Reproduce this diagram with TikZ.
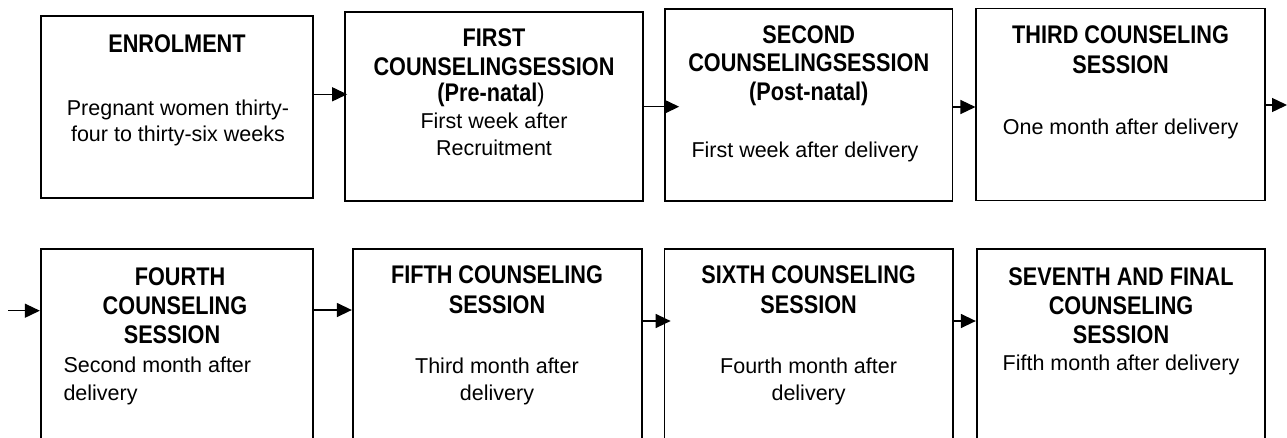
\documentclass[tikz,border=0pt]{standalone}
\usepackage{fontspec}
\setmainfont{Liberation Sans}
\newfontfamily\headfont{Liberation Sans}[FakeStretch=0.85]
\usetikzlibrary{arrows.meta}

\tikzset{
  box/.style={draw, line width=1.7pt, inner sep=0pt},
  ttl/.style={anchor=base, inner sep=0pt, font=\headfont\bfseries\fontsize{25.5}{29}\selectfont},
  txt/.style={anchor=base, inner sep=0pt, font=\fontsize{21.5}{26}\selectfont},
  txtl/.style={txt, anchor=base west},
  arr/.style={line width=1.4pt, -{Triangle[length=15pt,width=14pt]}}
}

\begin{document}
\begin{tikzpicture}[x=1pt,y=-1pt]
\useasboundingbox (0,0) rectangle (1287,437);
\fill[white] (0,0) rectangle (1287,437);
\clip (0,0) rectangle (1287,437);

% ---- upper row of boxes
\node[box, minimum width=272.3pt, minimum height=182.3pt] (b1) at (176.85,106.85) {};
\node[box, minimum width=297.7pt, minimum height=189.3pt] (b2) at (493.85,106.35) {};
\node[box, minimum width=287.4pt, minimum height=192pt]   (b3) at (808.7,105) {};
\node[box, minimum width=288.7pt, minimum height=192pt]   (b4) at (1120.65,104.5) {};

% ---- lower row of boxes (running past the lower edge)
\node[box, minimum width=272.3pt, minimum height=221pt] (b5) at (176.85,359.5) {};
\node[box, minimum width=289pt,   minimum height=221pt] (b6) at (497.2,359.5) {};
\node[box, minimum width=288.2pt, minimum height=221pt] (b7) at (808.6,359.5) {};
\node[box, minimum width=288.3pt, minimum height=221pt] (b8) at (1120.85,359.5) {};

% ---- texts, upper row
\node[ttl] (b1h) at (177,52) {ENROLMENT};
\node[txt] (b1a) at (178,115) {Pregnant women thirty-};
\node[txt] (b1b) at (178,141.7) {four to thirty-six weeks};

\node[ttl] (b2h) at (494,46.7) {FIRST};
\node[ttl] (b2i) at (494,75) {COUNSELINGSESSION};
\node[ttl] (b2j) at (491,101.7) {(Pre-natal{\mdseries)}};
\node[txt] (b2a) at (494,128) {First week after};
\node[txt] (b2b) at (494,155) {Recruitment};

\node[ttl] (b3h) at (808.7,43.3) {SECOND};
\node[ttl] (b3i) at (808.7,71.7) {COUNSELINGSESSION};
\node[ttl] (b3j) at (808.7,100) {(Post-natal)};
\node[txt] (b3a) at (805,157) {First week after delivery};

\node[ttl] (b4h) at (1120.6,43.5) {THIRD COUNSELING};
\node[ttl] (b4i) at (1120.6,73) {SESSION};
\node[txt] (b4a) at (1120.6,134) {One month after delivery};

% ---- texts, lower row
\node[ttl] (b5h) at (180,285) {FOURTH};
\node[ttl] (b5i) at (175,314) {COUNSELING};
\node[ttl] (b5j) at (172,343.3) {SESSION};
\node[txtl] (b5a) at (63.3,372.7) {Second month after};
\node[txtl] (b5b) at (63.3,400) {delivery};

\node[ttl] (b6h) at (497,283.3) {FIFTH COUNSELING};
\node[ttl] (b6i) at (497,313.3) {SESSION};
\node[txt] (b6a) at (497,373) {Third month after};
\node[txt] (b6b) at (497,400) {delivery};

\node[ttl] (b7h) at (808.6,283.3) {SIXTH COUNSELING};
\node[ttl] (b7i) at (808.6,313.3) {SESSION};
\node[txt] (b7a) at (808.6,373) {Fourth month after};
\node[txt] (b7b) at (808.6,400) {delivery};

\node[ttl] (b8h) at (1121,285) {SEVENTH AND FINAL};
\node[ttl] (b8i) at (1121,314) {COUNSELING};
\node[ttl] (b8j) at (1121,343) {SESSION};
\node[txt] (b8a) at (1121,370.7) {Fifth month after delivery};

% ---- connector heights
\coordinate (r1) at (0,94.3);
\coordinate (r2) at (0,106.7);
\coordinate (r3) at (0,107);
\coordinate (r4) at (1287,105);
\coordinate (s0) at (8.3,310.7);
\coordinate (s1) at (0,310);
\coordinate (s2) at (0,321);
\coordinate (s3) at (0,321);

% ---- connectors
\draw[arr, shorten >=-3pt]  (b1.east |- r1) -- (b2.west |- r1);
\draw[arr, shorten >=-15pt] (b2.east |- r2) -- (b3.west |- r2);
\draw[arr] (b3.east |- r3) -- (b4.west |- r3);
\draw[arr] (b4.east |- r4) -- (r4);
\draw[arr] (s0) -- (b5.west |- s0);
\draw[arr] (b5.east |- s1) -- (b6.west |- s1);
\draw[arr, shorten >=-7pt]  (b6.east |- s2) -- (b7.west |- s2);
\draw[arr] (b7.east |- s3) -- (b8.west |- s3);
\end{tikzpicture}
\end{document}
